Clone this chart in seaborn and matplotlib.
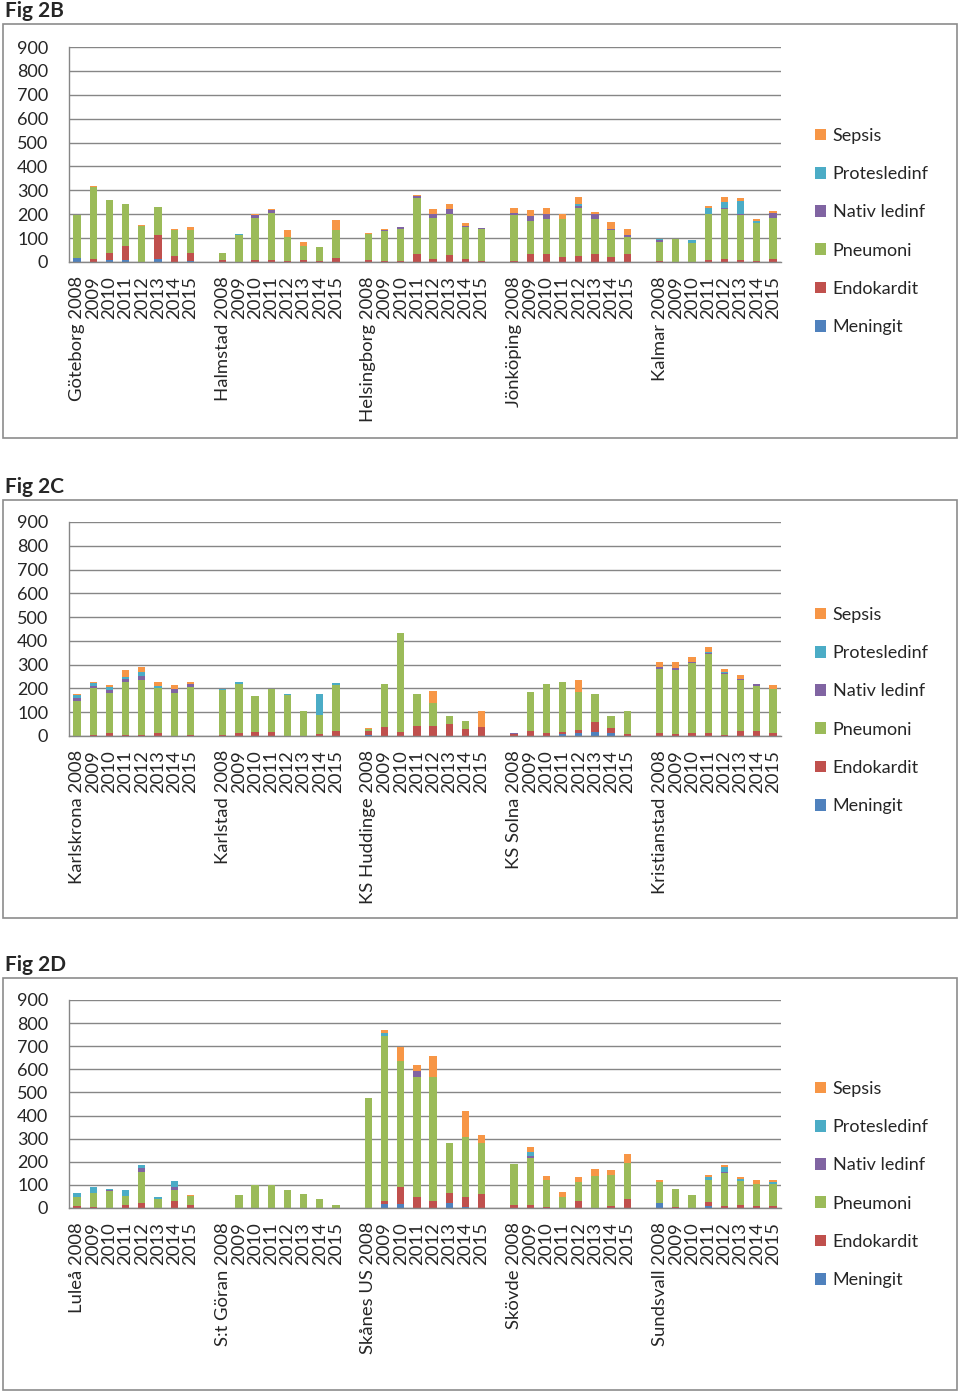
import numpy as np
import pandas as pd
import seaborn as sns
import matplotlib.pyplot as plt
from matplotlib.patches import Patch, Rectangle

# stacking / legend order (first = top of stack)
CATEGORIES = ["Sepsis", "Protesledinf", "Nativ ledinf", "Pneumoni", "Endokardit", "Meningit"]
COLORS = ["#F79646", "#4BACC6", "#8064A2", "#9BBB59", "#C0504D", "#4F81BD"]
YEARS = [str(y) for y in range(2008, 2016)]

# ---- Fig 2B ----
B_HOSPITALS = ["Göteborg", "Halmstad", "Helsingborg", "Jönköping", "Kalmar"]
B_MENINGIT = [17, 0, 8, 10, 0, 12, 0, 3,
              0, 0, 0, 0, 0, 0, 0, 0,
              0, 0, 0, 0, 0, 0, 0, 0,
              0, 0, 0, 0, 0, 0, 0, 0,
              0, 0, 0, 0, 0, 0, 0, 0]
B_ENDOKARDIT = [0, 12, 30, 56, 2, 100, 24, 35,
                8, 2, 10, 10, 5, 10, 6, 17,
                8, 6, 3, 32, 12, 28, 12, 6,
                6, 32, 32, 20, 27, 32, 20, 34,
                6, 0, 0, 7, 11, 10, 5, 13]
B_PNEUMONI = [178, 303, 220, 175, 150, 117, 110, 95,
              30, 112, 175, 197, 98, 59, 56, 118,
              109, 122, 137, 236, 172, 171, 133, 132,
              190, 140, 150, 160, 198, 150, 116, 69,
              77, 98, 80, 196, 209, 185, 157, 171]
B_NATIV = [0, 0, 0, 0, 0, 0, 0, 0,
           0, 0, 10, 10, 0, 0, 0, 0,
           0, 6, 6, 8, 18, 21, 4, 5,
           8, 22, 17, 0, 10, 17, 4, 10,
           10, 0, 0, 0, 7, 8, 0, 20]
B_PROTES = [0, 0, 0, 0, 0, 0, 0, 0,
            0, 5, 0, 0, 0, 0, 0, 0,
            0, 0, 0, 0, 0, 0, 0, 0,
            0, 0, 0, 0, 8, 0, 0, 0,
            5, 0, 14, 25, 25, 53, 8, 0]
B_SEPSIS = [0, 3, 3, 2, 3, 2, 3, 13,
            0, 0, 5, 5, 30, 14, 0, 40,
            5, 5, 0, 4, 18, 21, 15, 0,
            22, 22, 28, 22, 29, 10, 27, 25,
            0, 0, 0, 5, 18, 14, 11, 8]

# ---- Fig 2C ----
C_HOSPITALS = ["Karlskrona", "Karlstad", "KS Huddinge", "KS Solna", "Kristianstad"]
C_MENINGIT = [0, 0, 0, 0, 0, 0, 0, 0,
              0, 0, 0, 0, 0, 0, 0, 0,
              4, 0, 0, 0, 0, 0, 0, 0,
              0, 0, 0, 7, 11, 18, 14, 0,
              0, 0, 0, 0, 0, 0, 0, 0]
C_ENDOKARDIT = [0, 4, 14, 3, 4, 11, 0, 3,
                3, 14, 17, 18, 0, 0, 10, 20,
                18, 37, 16, 41, 42, 51, 31, 37,
                10, 21, 11, 10, 16, 42, 20, 8,
                14, 10, 14, 13, 4, 20, 21, 14]
C_PNEUMONI = [148, 196, 167, 226, 233, 190, 181, 203,
              192, 203, 150, 180, 172, 106, 79, 196,
              6, 180, 417, 136, 96, 34, 31, 0,
              0, 164, 208, 212, 158, 116, 51, 97,
              268, 267, 291, 331, 256, 215, 188, 185]
C_NATIV = [10, 10, 11, 11, 14, 0, 17, 13,
           0, 0, 0, 0, 0, 0, 0, 0,
           0, 0, 0, 0, 0, 0, 0, 0,
           3, 0, 0, 0, 0, 0, 0, 0,
           8, 8, 7, 5, 4, 6, 11, 0]
C_PROTES = [13, 11, 13, 8, 18, 11, 0, 0,
            4, 12, 0, 0, 5, 0, 89, 7,
            0, 0, 0, 0, 0, 0, 0, 0,
            0, 0, 0, 0, 0, 0, 0, 0,
            0, 0, 0, 5, 4, 0, 0, 0]
C_SEPSIS = [7, 5, 10, 28, 23, 14, 18, 7,
            0, 0, 0, 0, 0, 0, 0, 0,
            5, 0, 0, 0, 51, 0, 0, 68,
            0, 0, 0, 0, 51, 0, 0, 0,
            20, 28, 21, 20, 14, 17, 0, 14]

# ---- Fig 2D ----
D_HOSPITALS = ["Luleå", "S:t Göran", "Skånes US", "Skövde", "Sundsvall"]
D_MENINGIT = [0, 0, 0, 0, 0, 0, 0, 0,
              0, 0, 0, 0, 0, 0, 0, 0,
              0, 17, 17, 0, 0, 20, 4, 0,
              0, 0, 0, 0, 0, 0, 0, 0,
              20, 0, 0, 9, 0, 0, 0, 0]
D_ENDOKARDIT = [10, 3, 0, 15, 20, 0, 30, 15,
                0, 0, 0, 0, 0, 0, 0, 0,
                0, 13, 73, 49, 30, 45, 44, 59,
                12, 14, 3, 0, 30, 0, 10, 38,
                3, 4, 0, 17, 9, 12, 9, 9]
D_PNEUMONI = [39, 64, 74, 39, 134, 38, 48, 36,
              0, 57, 100, 100, 78, 60, 38, 13,
              477, 715, 547, 519, 538, 218, 261, 222,
              180, 203, 119, 49, 81, 139, 133, 157,
              90, 80, 55, 93, 142, 103, 96, 96]
D_NATIV = [0, 0, 4, 0, 19, 0, 15, 0,
           0, 0, 0, 0, 0, 0, 0, 0,
           0, 0, 0, 25, 0, 0, 0, 0,
           0, 9, 0, 0, 0, 0, 0, 0,
           0, 0, 0, 0, 5, 0, 0, 0]
D_PROTES = [15, 26, 6, 23, 12, 9, 23, 0,
            0, 0, 0, 0, 0, 0, 0, 0,
            0, 12, 0, 0, 0, 0, 0, 0,
            0, 15, 0, 0, 0, 0, 0, 0,
            0, 0, 0, 15, 20, 10, 0, 9]
D_SEPSIS = [0, 0, 0, 0, 0, 0, 0, 6,
            0, 0, 0, 0, 0, 0, 0, 0,
            0, 15, 61, 25, 90, 0, 109, 35,
            0, 23, 16, 20, 22, 30, 23, 38,
            6, 0, 0, 9, 10, 10, 17, 6]


def long_table(hospitals, sepsis, protes, nativ, pneumoni, endokardit, meningit):
    series = dict(zip(CATEGORIES, [sepsis, protes, nativ, pneumoni, endokardit, meningit]))
    rows = []
    for h in range(len(hospitals)):
        for j in range(len(YEARS)):
            slot = h * 9 + j  # one empty slot between hospitals
            for cat in CATEGORIES:
                rows.append((slot, cat, series[cat][h * 8 + j]))
    return pd.DataFrame(rows, columns=["slot", "category", "value"])


def tick_labels(hospitals):
    labels = []
    for h, name in enumerate(hospitals):
        labels += [f"{name} {YEARS[0]}"] + YEARS[1:]
        if h < len(hospitals) - 1:
            labels.append("")
    return labels


sns.set_style("white")
plt.rcParams["font.family"] = ["Lato", "DejaVu Sans"]

W, H = 960, 1392
fig = plt.figure(figsize=(W / 100, H / 100), dpi=100)
GRID = "#868686"

panels = [
    ("Fig 2B", B_HOSPITALS, (B_SEPSIS, B_PROTES, B_NATIV, B_PNEUMONI, B_ENDOKARDIT, B_MENINGIT),
     10, (3, 24, 957, 438), (47, 262), 135),
    ("Fig 2C", C_HOSPITALS, (C_SEPSIS, C_PROTES, C_NATIV, C_PNEUMONI, C_ENDOKARDIT, C_MENINGIT),
     486, (3, 500, 957, 918), (522, 736), 614),
    ("Fig 2D", D_HOSPITALS, (D_SEPSIS, D_PROTES, D_NATIV, D_PNEUMONI, D_ENDOKARDIT, D_MENINGIT),
     964, (3, 978, 957, 1390), (1000, 1208), 1088),
]

for title, hospitals, vals, title_y, box, (y_top, y_bot), leg_y in panels:
    # outer frame of the chart
    x0, y0, x1, y1 = box
    fig.patches.append(Rectangle((x0 / W, 1 - y1 / H), (x1 - x0) / W, (y1 - y0) / H,
                                 transform=fig.transFigure, fill=False,
                                 edgecolor="#8c8c8c", linewidth=1.2))
    fig.text(5 / W, 1 - (title_y + 1) / H, title, fontsize=15, fontweight="bold",
             va="center", ha="left")

    ax = fig.add_axes([69 / W, 1 - y_bot / H, 712 / W, (y_bot - y_top) / H])
    df = long_table(hospitals, *vals)
    sns.histplot(data=df, x="slot", hue="category", weights="value",
                 multiple="stack", discrete=True, shrink=0.45,
                 hue_order=CATEGORIES, palette=COLORS, alpha=1,
                 linewidth=0, legend=False, ax=ax)

    n_slots = len(hospitals) * 9 - 1
    ax.set_xlim(-0.5, n_slots - 0.5)
    ax.set_ylim(0, 900)
    ax.set_yticks(range(0, 901, 100))
    ax.set_xticks(range(n_slots))
    ax.set_xticklabels(tick_labels(hospitals), rotation=90, fontsize=13.3)
    ax.set_xticks(np.arange(-0.5, n_slots, 1.0), minor=True)
    ax.tick_params(axis="x", which="major", length=0, pad=10)
    ax.tick_params(axis="x", which="minor", length=5, color=GRID, width=1)
    ax.tick_params(axis="y", length=5, color=GRID, width=1, pad=10, labelsize=13)
    ax.set_xlabel("")
    ax.set_ylabel("")
    ax.set_axisbelow(True)
    ax.yaxis.grid(True, color=GRID, linewidth=1)
    for s in ("top", "right"):
        ax.spines[s].set_visible(False)
    for s in ("left", "bottom"):
        ax.spines[s].set_color(GRID)
        ax.spines[s].set_linewidth(1)

    handles = [Patch(facecolor=c, edgecolor="none") for c in COLORS]
    fig.legend(handles, CATEGORIES, loc="upper left",
               bbox_to_anchor=(815 / W, 1 - (leg_y - 7) / H),
               frameon=False, fontsize=13, labelspacing=1.23,
               handlelength=0.62, handleheight=0.62, handletextpad=0.35,
               borderpad=0, borderaxespad=0)

fig.savefig("out.png", dpi=100)
